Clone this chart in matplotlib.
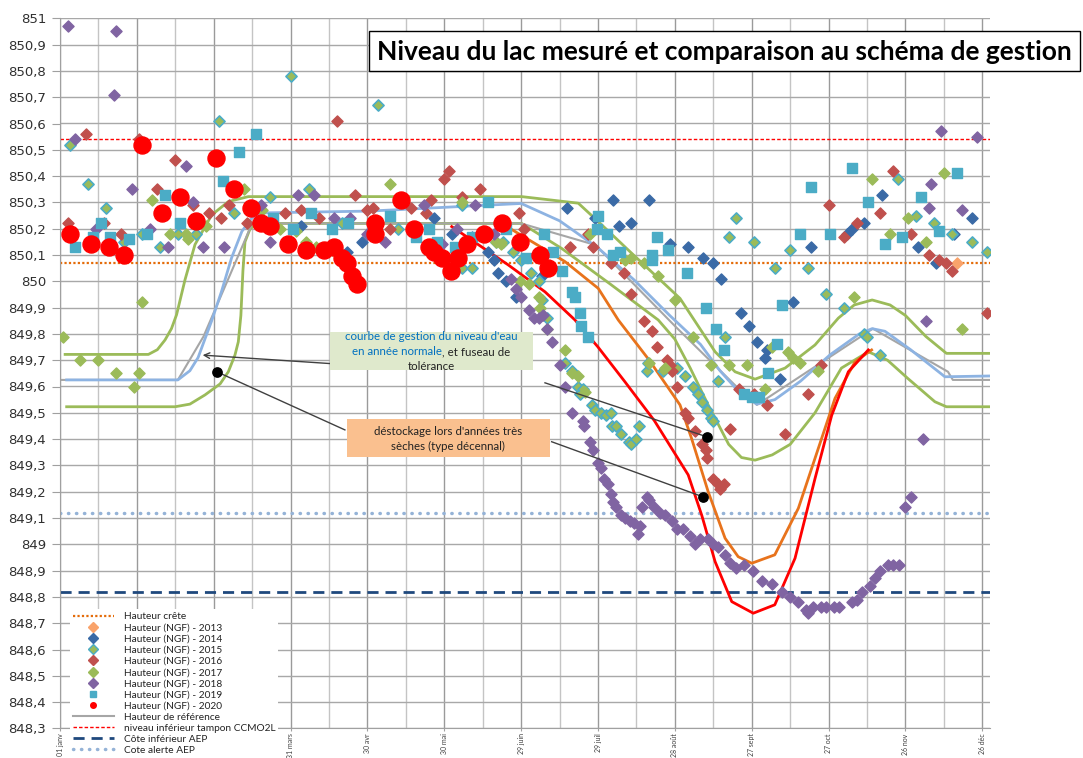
import matplotlib.pyplot as plt
from matplotlib.lines import Line2D
from matplotlib.patches import Rectangle
import numpy as np

W, H = 1083, 758

# jours depuis le 1er janvier (année bissextile) / cote NGF (m)
crete = 850.07
tampon_ccmo2l = 850.54
cote_inf_aep = 848.82
cote_alerte_aep = 849.12

tick_days = [0, 30, 60, 90, 120, 150, 180, 210, 240, 270, 300, 330, 360]
# 31 janv et 01 mars sont cachés par la légende
tick_labels = ["01 janv", "", "", "31 mars", "30 avr", "30 mai", "29 juin",
               "29 juil", "28 août", "27 sept", "27 oct", "26 nov", "26 déc"]

# courbe de gestion (année normale)
gest_d = [2.6, 46, 50.7, 53.9, 59.2, 63, 67, 71, 74.8, 78, 121, 180, 195, 210, 224, 238, 250,
          257.6, 265, 272, 279, 289, 300.5, 312, 317, 322, 332, 345.4, 363]
gest_v = [849.625, 849.625, 849.66, 849.71, 849.85, 849.96, 850.09, 850.19, 850.24, 850.26, 850.267,
          850.296, 850.23, 850.127, 850.006, 849.87, 849.76, 849.66, 849.58, 849.533, 849.55, 849.62,
          849.72, 849.80, 849.82, 849.81, 849.74, 849.637, 849.64]

# hauteur de référence
ref_d = [0, 46, 56, 75, 180, 209, 240, 264, 272, 317.3, 346.6, 348.5, 363]
ref_v = [849.625, 849.625, 849.79, 850.22, 850.22, 850.138, 849.83, 849.60, 849.53, 849.82,
         849.656, 849.625, 849.625]

# fuseau de tolérance
up_d = [2, 34.5, 38, 41, 43.5, 45.5, 48.8, 52.7, 59.2, 65.7, 73.5, 180.2, 202.3, 210.1, 223.1, 242,
        255.7, 263.5, 271.3, 283, 294.7, 303.8, 310, 317, 324, 330, 338, 346, 363]
up_v = [849.722, 849.722, 849.74, 849.777, 849.82, 849.873, 850.006, 850.14, 850.252, 850.303,
        850.322, 850.322, 850.297, 850.227, 850.107, 849.935, 849.732, 849.656, 849.628, 849.67,
        849.758, 849.86, 849.91, 849.929, 849.91, 849.87, 849.79, 849.726, 849.726]
low_d = [2.6, 44.9, 50.7, 56.6, 62.5, 65.7, 68.3, 69.6, 70.6, 71.4, 72.2, 74.2, 77.3, 180.2, 195.8,
         214.7, 233.5, 240, 246, 253, 261, 266, 271.3, 278, 285, 294.7, 305, 315.5, 323, 331,
         341.5, 346, 363]
low_v = [849.523, 849.523, 849.533, 849.568, 849.61, 849.656, 849.72, 849.77, 849.87, 850.04,
         850.15, 850.20, 850.22, 850.22, 850.125, 849.99, 849.853, 849.78, 849.67, 849.53, 849.38,
         849.33, 849.32, 849.34, 849.38, 849.50, 849.67, 849.732, 849.70, 849.63, 849.542, 849.523,
         849.523]

# déstockage années sèches
orange_d = [172.4, 197.1, 210.1, 217.9, 230, 242, 246.5, 253, 259.6, 264.7, 270, 279, 288.2, 296,
            302.5, 310.3, 316.8]
orange_v = [850.22, 850.075, 849.973, 849.853, 849.70, 849.53, 849.403, 849.2, 849.023, 848.953,
            848.928, 848.96, 849.137, 849.365, 849.555, 849.694, 849.739]
red_d = [152.9, 175, 189.3, 201, 210, 220.5, 232, 242, 245.2, 250.5, 255.7, 262.2, 270.6, 279,
         286.9, 294.7, 301.2, 307.7, 315.5]
red_v = [850.208, 850.062, 849.96, 849.853, 849.75, 849.618, 849.47, 849.314, 849.264, 849.11,
         848.934, 848.782, 848.738, 848.77, 848.947, 849.25, 849.49, 849.656, 849.739]

# mesures
d2013 = [350]
v2013 = [850.07]

d2014 = [94, 112, 118, 146, 153, 161, 167, 169.5, 171, 174, 178, 188, 198, 209, 216, 218, 223, 230,
         238, 245, 251, 255, 258, 266, 269, 272, 275, 276, 281, 286, 293, 307, 309, 314, 321, 335,
         342, 349, 356]
v2014 = [850.21, 850.11, 850.15, 850.24, 850.18, 850.17, 850.11, 850.08, 850.03, 850.0, 849.94,
         850.02, 850.28, 850.24, 850.31, 850.21, 850.22, 850.31, 850.14, 850.13, 850.09, 850.07,
         850.01, 849.88, 849.83, 849.77, 849.71, 849.74, 849.63, 849.92, 850.13, 850.18, 850.2,
         850.22, 850.33, 850.13, 850.07, 850.18, 850.24]

d2015 = [4, 11, 18, 25, 32, 39, 46, 53, 62, 68, 82, 90, 97, 110, 124, 132, 157, 157, 161, 170, 173,
         177, 180, 184, 187, 188, 190, 197, 200, 202, 203, 204, 207.5, 209, 211, 213, 215, 215.5,
         217, 219, 222, 223, 225, 226, 229, 229.5, 235.5, 241, 244, 247, 249, 250.5, 252.5, 254,
         255, 257, 259.6, 261, 264, 271, 279, 285, 292, 299, 306, 314, 315, 320, 327, 334, 341,
         348, 356, 362]
v2015 = [850.52, 850.37, 850.28, 850.15, 850.18, 850.13, 850.18, 850.18, 850.61, 850.26, 850.32,
         850.78, 850.35, 850.22, 850.67, 850.20, 850.29, 850.05, 850.05, 850.15, 850.15, 850.11,
         850.08, 850.03, 850.0, 849.93, 849.86, 849.69, 849.66, 849.60, 849.57, 849.59, 849.53,
         849.51, 849.50, 849.49, 849.50, 849.45, 849.45, 849.42, 849.39, 849.38, 849.40, 849.45,
         849.66, 849.69, 849.66, 849.67, 849.64, 849.60, 849.57, 849.54, 849.51, 849.48, 849.47,
         849.62, 849.79, 850.17, 850.24, 850.15, 850.05, 850.12, 850.05, 849.95, 849.90, 849.80,
         849.79, 849.72, 850.39, 850.25, 850.22, 850.18, 850.15, 850.11]

d2016 = [3, 10, 17, 24, 31, 38, 45, 52, 58, 63, 66, 73, 88, 94, 101, 108, 115, 120, 122, 129, 137,
         143, 145, 150, 152, 157, 164, 179, 181, 199, 206, 208, 215, 220, 223, 228, 231, 233, 237,
         238, 239, 241, 244, 245, 248, 250.5, 252, 252.5, 255, 257, 257.6, 259.3, 261.5, 265, 271,
         276, 283, 292, 297, 300, 306, 311, 320, 325, 332, 339, 343, 346, 348, 362]
v2016 = [850.22, 850.56, 850.22, 850.18, 850.54, 850.35, 850.46, 850.29, 850.26, 850.24, 850.29,
         850.22, 850.26, 850.27, 850.24, 850.61, 850.33, 850.27, 850.28, 850.2, 850.28, 850.26,
         850.31, 850.39, 850.42, 850.32, 850.35, 850.26, 850.20, 850.13, 850.18, 850.13, 850.07,
         850.03, 849.95, 849.85, 849.81, 849.75, 849.70, 849.68, 849.66, 849.60, 849.50, 849.48,
         849.43, 849.38, 849.36, 849.33, 849.25, 849.23, 849.21, 849.23, 849.44, 849.59, 849.57,
         849.53, 849.42, 849.57, 849.68, 850.29, 850.17, 850.22, 850.26, 850.42, 850.18, 850.10,
         850.08, 850.07, 850.04, 849.88]

d2017 = [1, 8, 15, 22, 29, 31, 32, 36, 40, 43, 49, 50, 57, 72, 79, 86, 92, 96, 100, 106, 129, 157,
         170, 172, 179.5, 183, 187, 187.5, 190, 197, 200, 202, 205, 207, 220.5, 223, 228, 230,
         233.5, 236, 240, 247, 254, 261, 268, 275, 278, 284, 286, 289, 296, 310, 317, 324, 331,
         338, 345, 352]
v2017 = [849.79, 849.70, 849.70, 849.65, 849.60, 849.65, 849.92, 850.31, 850.26, 850.18, 850.18,
         850.16, 850.21, 850.35, 850.27, 850.20, 850.19, 850.15, 850.13, 850.12, 850.37, 850.30,
         850.15, 850.14, 850.0, 849.99, 849.94, 849.90, 849.82, 849.74, 849.65, 849.64, 849.58,
         850.18, 850.08, 850.09, 850.07, 849.69, 850.02, 849.67, 849.93, 849.79, 849.68, 849.68,
         849.68, 849.59, 849.75, 849.73, 849.71, 849.69, 849.66, 849.94, 850.39, 850.18, 850.24,
         850.15, 850.41, 849.82]

d2018 = [3, 6, 14, 21, 22, 28, 35, 42, 49, 52, 56, 64, 78.5, 82, 93, 99, 107, 113, 120, 127, 142,
         149, 155, 162, 169.5, 176, 178, 180, 183, 185, 187, 188.5, 190, 192, 195, 197, 200, 204,
         204.5, 207, 208, 210, 211, 212.5, 214, 215, 216, 217, 219, 220.5, 222.5, 224, 225.5,
         226.5, 227, 229, 230, 232, 234, 236, 239, 241, 243, 246, 248, 250, 253, 255, 257, 259.6,
         261.5, 264, 267, 270.5, 274, 278, 282, 285, 288, 291, 292, 294, 297, 299, 302, 304, 309,
         311, 313, 316, 318, 320, 323, 325, 327.5, 330, 332, 337, 338, 339, 340, 344, 352, 358]
v2018 = [850.97, 850.54, 850.20, 850.71, 850.95, 850.35, 850.20, 850.13, 850.44, 850.30, 850.13,
         850.13, 850.29, 850.15, 850.33, 850.33, 850.24, 850.24, 850.18, 850.15, 850.29, 850.14,
         850.20, 850.29, 850.18, 850.01, 849.97, 849.94, 849.89, 849.86, 849.86, 849.87, 849.82,
         849.77, 849.68, 849.60, 849.50, 849.47, 849.45, 849.39, 849.36, 849.31, 849.29, 849.25,
         849.23, 849.19, 849.16, 849.14, 849.11, 849.10, 849.09, 849.08, 849.04, 849.07, 849.14,
         849.18, 849.17, 849.14, 849.12, 849.11, 849.09, 849.06, 849.06, 849.03, 849.0, 849.02,
         849.02, 849.0, 848.99, 848.96, 848.93, 848.91, 848.92, 848.90, 848.86, 848.85, 848.82,
         848.80, 848.78, 848.75, 848.74, 848.76, 848.76, 848.76, 848.76, 848.76, 848.78, 848.79,
         848.82, 848.84, 848.87, 848.90, 848.92, 848.92, 848.92, 849.14, 849.18, 849.40, 849.85,
         850.28, 850.37, 850.57, 850.27, 850.55]

d2019 = [6, 13, 16, 19.5, 27, 34, 41, 47, 63.5, 70, 76.5, 83, 91, 98, 106, 112.5, 129, 139, 144,
         147, 154, 161, 167, 174, 182, 189, 192.5, 196, 200, 201, 203, 203.5, 206, 209.5, 210,
         213.5, 216, 218.6, 231, 231, 233, 237.5, 244.6, 252, 256, 259, 267, 270, 273, 276.5, 280,
         282, 289, 293, 300.5, 309, 315.5, 322, 328.5, 336, 343, 350]
v2019 = [850.13, 850.17, 850.22, 850.17, 850.16, 850.18, 850.33, 850.22, 850.38, 850.49, 850.56,
         850.24, 850.20, 850.26, 850.20, 850.22, 850.25, 850.17, 850.20, 850.15, 850.13, 850.17,
         850.30, 850.20, 850.09, 850.18, 850.11, 850.04, 849.96, 849.94, 849.88, 849.83, 849.79,
         850.20, 850.25, 850.18, 850.10, 850.11, 850.10, 850.08, 850.17, 850.12, 850.03, 849.90,
         849.82, 849.74, 849.57, 849.56, 849.56, 849.65, 849.76, 849.91, 850.18, 850.36, 850.18,
         850.43, 850.30, 850.14, 850.17, 850.32, 850.19, 850.41]

d2020 = [4, 12, 19, 25, 32, 40, 47, 53, 61, 68, 74.5, 78.5, 82, 89, 96, 103, 107, 110, 112, 114,
         116, 123, 123, 133, 138, 144, 146, 149, 152.6, 155.5, 159, 165.5, 172.4, 179.5, 187.4,
         190.6]
v2020 = [850.18, 850.14, 850.13, 850.10, 850.52, 850.26, 850.32, 850.23, 850.47, 850.35, 850.28,
         850.22, 850.21, 850.14, 850.12, 850.12, 850.13, 850.09, 850.07, 850.02, 849.99, 850.22,
         850.18, 850.31, 850.20, 850.13, 850.11, 850.09, 850.04, 850.09, 850.14, 850.18, 850.22,
         850.15, 850.10, 850.05]

fig = plt.figure(figsize=(W / 100, H / 100), dpi=100)
ax = fig.add_axes([60 / W, 1 - 728.4 / H, 930 / W, 710.1 / H])
ax.set_xlim(0, 363)
ax.set_ylim(848.3, 851)

# grille
for d in range(0, 364, 15):
    ax.axvline(d, color="#9a9a9a" if d % 30 == 0 else "#c4c4c4", lw=1, zorder=0)
for v in np.arange(848.3, 851.01, 0.1):
    ax.axhline(v, color="#a8a8a8", lw=1, zorder=0)

ax.axhline(crete, color="#e46c0a", lw=1.6, ls=(0, (1, 1)), zorder=2)
ax.axhline(tampon_ccmo2l, color="#ff0000", lw=1, ls=(0, (2.5, 1.5)), zorder=2)
ax.axhline(cote_inf_aep, color="#1f497d", lw=2, ls=(0, (4, 2.5)), zorder=2)
ax.axhline(cote_alerte_aep, color="#95b3d7", lw=2.5, ls=(0, (0.1, 2.2)),
           dash_capstyle="round", zorder=2)

ax.plot(up_d, up_v, color="#9bbb59", lw=2, zorder=2)
ax.plot(low_d, low_v, color="#9bbb59", lw=2, zorder=2)
ax.plot(ref_d, ref_v, color="#a6a6a6", lw=1.5, zorder=2)
ax.plot(gest_d, gest_v, color="#8db3e2", lw=2, zorder=2)
ax.plot(orange_d, orange_v, color="#e8731c", lw=2, zorder=2)
ax.plot(red_d, red_v, color="#ff0000", lw=2, zorder=2)

ms = 32
ax.scatter(d2013, v2013, marker="D", s=ms, color="#f9a36b", zorder=3)
ax.scatter(d2014, v2014, marker="D", s=ms, color="#3a6aa6", zorder=3)
ax.scatter(d2015, v2015, marker="D", s=ms, facecolor="#9bbb59", edgecolor="#4bacc6", lw=1.2, zorder=3)
ax.scatter(d2016, v2016, marker="D", s=ms, color="#c0504d", zorder=3)
ax.scatter(d2017, v2017, marker="D", s=ms, color="#9bbb59", zorder=3)
ax.scatter(d2018, v2018, marker="D", s=ms, color="#8064a2", zorder=3)
ax.scatter(d2019, v2019, marker="s", s=44, color="#4bacc6", zorder=3)
ax.scatter(d2020, v2020, marker="o", s=150, color="#ff0000", zorder=4)

ax.set_xticks(tick_days)
ax.set_xticklabels(tick_labels, rotation=90, fontsize=5, family="Lato", color="#404040")
ax.set_yticks(np.round(np.arange(848.3, 851.01, 0.1), 1))
ax.set_yticklabels([("%.1f" % v).rstrip("0").rstrip(".").replace(".", ",")
                    for v in np.arange(848.3, 851.01, 0.1)], fontsize=9.5, color="#303030")
ax.tick_params(axis="y", length=6, color="#a0a0a0", pad=4)
ax.tick_params(axis="x", length=2, color="#a0a0a0", pad=1.5)
for s in ["top", "right"]:
    ax.spines[s].set_visible(False)
for s in ["left", "bottom"]:
    ax.spines[s].set_color("#a0a0a0")

# annotations
ax.annotate("", xy=(54.6, 849.72), xytext=(107.3, 849.686),
            arrowprops=dict(arrowstyle="->", color="#404040", lw=1), zorder=5)
ax.plot([111.2, 61.2], [849.435, 849.656], color="#404040", lw=1, zorder=5)
ax.plot([189.3, 252.4], [849.614, 849.409], color="#404040", lw=1, zorder=5)
ax.plot([191.9, 251.1], [849.39, 849.18], color="#404040", lw=1, zorder=5)
ax.scatter([61.2, 252.4, 251.1], [849.656, 849.409, 849.18], s=45, color="black", zorder=6)


def fx(px):
    return px / W


def fy(py):
    return 1 - py / H


fig.patches.append(Rectangle((fx(330), fy(370)), fx(533) - fx(330), fy(332) - fy(370),
                             transform=fig.transFigure, fc="#dfe9cc", ec="none", zorder=5))
fig.patches.append(Rectangle((fx(347), fy(457)), fx(550) - fx(347), fy(419) - fy(457),
                             transform=fig.transFigure, fc="#fac08f", ec="none", zorder=5))
fig.patches.append(Rectangle((fx(369), fy(71)), fx(1080) - fx(369), fy(31) - fy(71),
                             transform=fig.transFigure, fc="white", ec="black", lw=1, zorder=5))

tkw = dict(fontsize=8.3, family="Lato", va="center", zorder=6)
blue = "#0070c0"
fig.text(fx(431), fy(337), "courbe de gestion du niveau d'eau", color=blue, ha="center", **tkw)
r = fig.canvas.get_renderer()
tmp = fig.text(fx(431), fy(351.5), "en année normale, et fuseau de", ha="center", **tkw)
bb = tmp.get_window_extent(r)
tmp.remove()
t1 = fig.text(bb.x0 / W, fy(351.5), "en année normale", color=blue, ha="left", **tkw)
bb1 = t1.get_window_extent(r)
fig.text(bb1.x1 / W, fy(351.5), ", et fuseau de", color="#222222", ha="left", **tkw)
fig.text(fx(431), fy(366), "tolérance", color="#222222", ha="center", **tkw)
fig.text(fx(448), fy(431.5), "déstockage lors d'années très", color="#222222", ha="center", **tkw)
fig.text(fx(448), fy(446.5), "sèches (type décennal)", color="#222222", ha="center", **tkw)

fig.text(fx(724.5), fy(51.5), "Niveau du lac mesuré et comparaison au schéma de gestion",
         fontsize=19, family="Lato", weight="bold", ha="center", va="center", zorder=6)

handles = [
    Line2D([], [], color="#e46c0a", lw=1.6, ls=(0, (1, 1))),
    Line2D([], [], ls="none", marker="D", ms=5, color="#f9a36b"),
    Line2D([], [], ls="none", marker="D", ms=5, color="#3a6aa6"),
    Line2D([], [], ls="none", marker="D", ms=5, mfc="#9bbb59", mec="#4bacc6"),
    Line2D([], [], ls="none", marker="D", ms=5, color="#c0504d"),
    Line2D([], [], ls="none", marker="D", ms=5, color="#9bbb59"),
    Line2D([], [], ls="none", marker="D", ms=5, color="#8064a2"),
    Line2D([], [], ls="none", marker="s", ms=5, color="#4bacc6"),
    Line2D([], [], ls="none", marker="o", ms=4, color="#ff0000"),
    Line2D([], [], color="#a6a6a6", lw=1.5),
    Line2D([], [], color="#ff0000", lw=1, ls=(0, (2.5, 1.5))),
    Line2D([], [], color="#1f497d", lw=2, ls=(0, (4, 2.5))),
    Line2D([], [], color="#95b3d7", lw=2.5, ls=(0, (0.1, 2.2)), dash_capstyle="round"),
]
labels = ["Hauteur crête", "Hauteur (NGF) - 2013", "Hauteur (NGF) - 2014", "Hauteur (NGF) - 2015",
          "Hauteur (NGF) - 2016", "Hauteur (NGF) - 2017", "Hauteur (NGF) - 2018",
          "Hauteur (NGF) - 2019", "Hauteur (NGF) - 2020", "Hauteur de référence",
          "niveau inférieur tampon CCMO2L", "Côte inférieur AEP", "Cote alerte AEP"]
leg = fig.legend(handles, labels, loc="lower left", bbox_to_anchor=(fx(70), 0),
                 prop={"family": "Lato", "size": 7.3}, frameon=True, fancybox=False,
                 edgecolor="none", facecolor="white", framealpha=1, borderpad=0.3,
                 handlelength=4.0, handletextpad=1.0, labelspacing=0.2, borderaxespad=0)
for t in leg.get_texts():
    t.set_color("#222222")

fig.savefig("out.png", dpi=100)
